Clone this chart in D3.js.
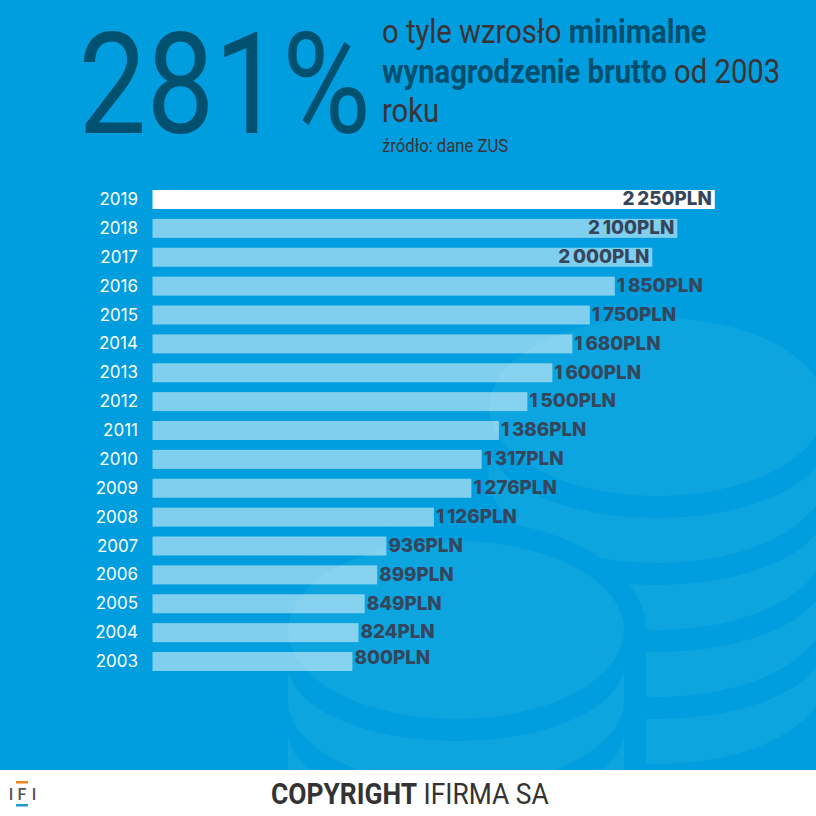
<!DOCTYPE html>
<html><head><meta charset="utf-8">
<script src="https://cdn.jsdelivr.net/npm/d3@7/dist/d3.min.js"></script>
<style>html,body{margin:0;padding:0;background:#fff}svg{display:block}</style>
</head><body><svg id="c" width="816" height="816"></svg>
<script>
const years=[2019,2018,2017,2016,2015,2014,2013,2012,2011,2010,2009,2008,2007,2006,2005,2004,2003];
const wages=[2250,2100,2000,1850,1750,1680,1600,1500,1386,1317,1276,1126,936,899,849,824,800];
const headline="281%";
const titleLines=[[["o tyle wzrosło ",0],["minimalne",1]],[["wynagrodzenie brutto",1],[" od 2003",0]],[["roku",0]]];
const source="źródło: dane ZUS";
const svg=d3.select("#c");
const BG="#009ede",COIN="#0ca5df";
svg.append("rect").attr("width",816).attr("height",770).attr("fill",BG);
const deco=svg.append("g");
function band(cx,cy,i){const rx=168,x0=cx-rx,x1=cx+rx,t=cy+35+67*(i-1),b=cy+70+67*(i-1);
 return `M${x0},${t}A${rx},76 0 0 0 ${x1},${t}L${x1},${b}A${rx},86 0 0 1 ${x0},${b}Z`;}
function stack(cx,cy,n){deco.append("ellipse").attr("cx",cx).attr("cy",cy).attr("rx",168).attr("ry",89).attr("fill",COIN);
 for(let i=1;i<=n;i++)deco.append("path").attr("d",band(cx,cy,i)).attr("fill",COIN);}
stack(657,407,4);
deco.append("path").attr("fill",BG).attr("d","M266,630A190,111 0 0 1 646,630V770H266Z");
stack(456,630,3);
const y=d3.scaleBand().domain(years).range([190,671]).paddingInner(0.342);
const x=d3.scaleLinear().domain([0,2250]).range([152.5,714.8]);
const rows=years.map((yr,i)=>({yr,v:wages[i]}));
const fmt=d3.formatLocale({decimal:",",thousands:"\u2009",grouping:[3],currency:["","PLN"]}).format(",d");
const g=svg.append("g");
g.selectAll("rect").data(rows).join("rect")
 .attr("x",x(0)).attr("y",d=>y(d.yr)).attr("width",d=>x(d.v)-x(0)).attr("height",y.bandwidth())
 .attr("fill","#fff").attr("fill-opacity",d=>d.yr===2019?1:0.5);
g.selectAll("text.yr").data(rows).join("text").attr("class","yr")
 .attr("x",138).attr("y",d=>y(d.yr)+y.bandwidth()/2-0.5).attr("dy","0.36em").attr("text-anchor","end")
 .attr("font-family","Inter").attr("font-size",17).attr("fill","#fff").text(d=>d.yr);
g.selectAll("text.val").data(rows).join("text").attr("class","val")
 .attr("x",d=>d.v>=2000?x(d.v)-3:x(d.v)+2)
 .attr("y",d=>y(d.yr)+y.bandwidth()/2+(d.yr===2003?-4:-1)).attr("dy","0.36em")
 .attr("text-anchor",d=>d.v>=2000?"end":"start")
 .attr("font-family","Inter").attr("font-weight",800).attr("font-size",18.8).attr("fill","#35465c")
 .text(d=>fmt(d.v)+"PLN");
function cond(sel,x,y,sx){return sel.attr("transform",`translate(${x},${y}) scale(${sx},1)`).attr("font-family","Roboto");}
cond(svg.append("text"),78.5,133,0.857).attr("font-size",141).attr("fill","#00506f").text(headline);
titleLines.forEach((ln,i)=>{const t=cond(svg.append("text"),382,[43,83,122][i],0.885).attr("font-size",33).style("white-space","pre");
 ln.forEach(([s,b])=>t.append("tspan").text(s).attr("font-weight",b?700:400).attr("fill",b?"#004f6f":"#3c3236"));});
cond(svg.append("text"),382,152,0.877).attr("font-size",19).attr("fill","#3c3236").text(source);
svg.append("rect").attr("y",770).attr("width",816).attr("height",46).attr("fill","#fff");
svg.append("rect").attr("x",16).attr("y",781).attr("width",12).attr("height",2.5).attr("fill","#f58220");
svg.append("rect").attr("x",16).attr("y",804).attr("width",12).attr("height",2.5).attr("fill","#1e9ad6");
[["I",11],["F",22],["I",34]].forEach(([s,px])=>svg.append("text").attr("x",px).attr("y",800).attr("text-anchor","middle").attr("font-family","Roboto").attr("font-weight",500).attr("font-size",16).attr("fill","#555").text(s));
const f=cond(svg.append("text"),271,804,0.88).attr("font-size",30).attr("fill","#333").style("white-space","pre");
f.append("tspan").attr("font-weight",700).text("COPYRIGHT");
f.append("tspan").attr("font-weight",400).text(" IFIRMA SA");
</script></body></html>
